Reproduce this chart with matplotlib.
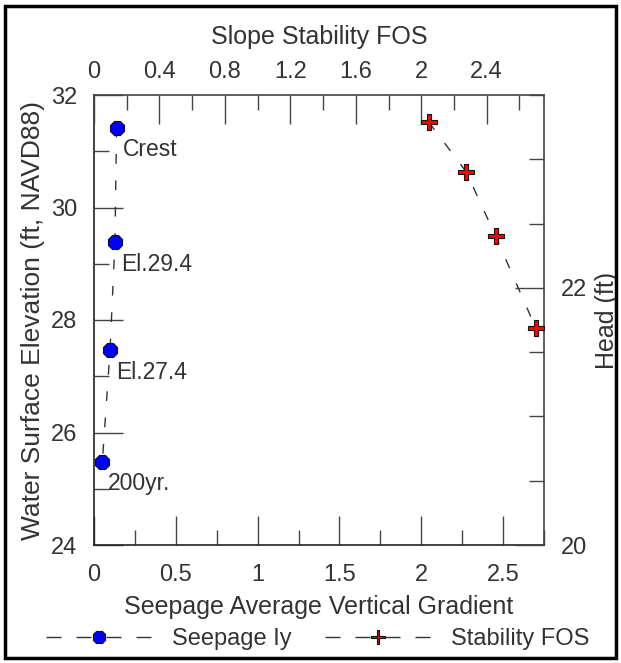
import matplotlib.pyplot as plt
from matplotlib.path import Path
from matplotlib.patches import Rectangle
from matplotlib.lines import Line2D
from matplotlib.ticker import MultipleLocator

plt.rcParams['font.family'] = ['Liberation Sans', 'DejaVu Sans']
plt.rcParams['font.size'] = 17

# Data
seep_gradient = [0.138, 0.128, 0.098, 0.051]
seep_elev = [31.42, 29.38, 27.46, 25.48]
seep_labels = ['Crest', 'El.29.4', 'El.27.4', '200yr.']

fos_values = [2.045, 2.276, 2.455, 2.699]
fos_head = [23.29, 22.90, 22.40, 21.69]

text_col = '#333333'
axis_col = '#444444'
dash = (0, (7, 12))

# fat plus marker with thin arms
w = 0.2
plus = Path([(-w, -1), (w, -1), (w, -w), (1, -w), (1, w), (w, w), (w, 1),
             (-w, 1), (-w, w), (-1, w), (-1, -w), (-w, -w), (-w, -1)],
            [Path.MOVETO] + [Path.LINETO] * 11 + [Path.CLOSEPOLY])

seep_style = dict(marker='8', markerfacecolor='#0000ff',
                  markeredgecolor='#111111', markeredgewidth=0.8)
fos_style = dict(marker=plus, markerfacecolor='#ff0000',
                 markeredgecolor='#111111', markeredgewidth=0.8)

fig = plt.figure(figsize=(6.21, 6.63), dpi=100)
pos = [94 / 621, 1 - 545 / 663, 450 / 621, 450 / 663]
ax = fig.add_axes(pos)
ax2 = fig.add_axes(pos, frameon=False)

# seepage: bottom x / left y
ax.plot(seep_gradient, seep_elev, linestyle=dash, color='#333333', lw=1,
        markersize=11.5, **seep_style)
for x, y, s in zip(seep_gradient, seep_elev, seep_labels):
    ax.annotate(s, (x, y), xytext=(6, -22), textcoords='offset pixels',
                ha='left', va='center', color=text_col, fontsize=16.5)

ax.set_xlim(0, 2.75)
ax.set_ylim(24, 32)
ax.xaxis.set_major_locator(MultipleLocator(0.5))
ax.xaxis.set_minor_locator(MultipleLocator(0.25))
ax.yaxis.set_major_locator(MultipleLocator(2))
ax.yaxis.set_minor_locator(MultipleLocator(1))
ax.set_xlabel('Seepage Average Vertical Gradient', color=text_col,
              fontsize=18, labelpad=6)
ax.set_ylabel('Water Surface Elevation (ft, NAVD88)', color=text_col,
              fontsize=19, labelpad=4)

# stability: top x / right y
ax2.plot(fos_values, fos_head, linestyle=dash, color='#333333', lw=1,
         markersize=12, **fos_style)
ax2.set_xlim(0, 2.75)
ax2.set_ylim(20, 23.5)
ax2.xaxis.tick_top()
ax2.xaxis.set_label_position('top')
ax2.yaxis.tick_right()
ax2.yaxis.set_label_position('right')
ax2.xaxis.set_major_locator(MultipleLocator(0.4))
ax2.xaxis.set_minor_locator(MultipleLocator(0.2))
ax2.yaxis.set_major_locator(MultipleLocator(2))
ax2.yaxis.set_minor_locator(MultipleLocator(0.5))
ax2.set_xlabel('Slope Stability FOS', color=text_col, fontsize=18, labelpad=12)
ax2.set_ylabel('Head (ft)', color=text_col, fontsize=18, labelpad=6)

fmt = plt.FuncFormatter(lambda v, p: f'{v:g}')
ax.xaxis.set_major_formatter(fmt)
ax2.xaxis.set_major_formatter(fmt)

for a in (ax, ax2):
    a.tick_params(which='major', direction='in', length=21, width=1,
                  color=axis_col, labelcolor=text_col, pad=12)
    a.tick_params(which='minor', direction='in', length=11, width=1,
                  color=axis_col)
ax.tick_params(axis='x', which='both', top=False)
ax.tick_params(axis='y', which='both', right=False)
ax.tick_params(axis='x', which='major', pad=14)
ax2.tick_params(axis='x', which='major', pad=9)
for sp in ax.spines.values():
    sp.set_color(axis_col)
    sp.set_linewidth(1.2)
ax.spines['left'].set_color('#222222')
ax.spines['bottom'].set_color('#222222')

# legend
leg_dash = (0, (10.8, 10.8))
handles = [Line2D([], [], color='#333333', lw=1, linestyle=leg_dash,
                  markersize=9.5, **seep_style),
           Line2D([], [], color='#333333', lw=1, linestyle=leg_dash,
                  markersize=10, **fos_style)]
leg = fig.legend(handles, ['Seepage Iy', 'Stability FOS'], loc='center',
                 bbox_to_anchor=(318 / 621, 1 - 639 / 663),
                 ncol=2, frameon=False, handlelength=4.45, columnspacing=1.4,
                 handletextpad=0.9)
for t in leg.get_texts():
    t.set_color(text_col)

# outer frame
fig.patches.append(Rectangle((5 / 621, 5 / 663), 611 / 621, 652 / 663,
                             transform=fig.transFigure, fill=False,
                             edgecolor='black', linewidth=2.5))

fig.savefig('out.png', dpi=100)
